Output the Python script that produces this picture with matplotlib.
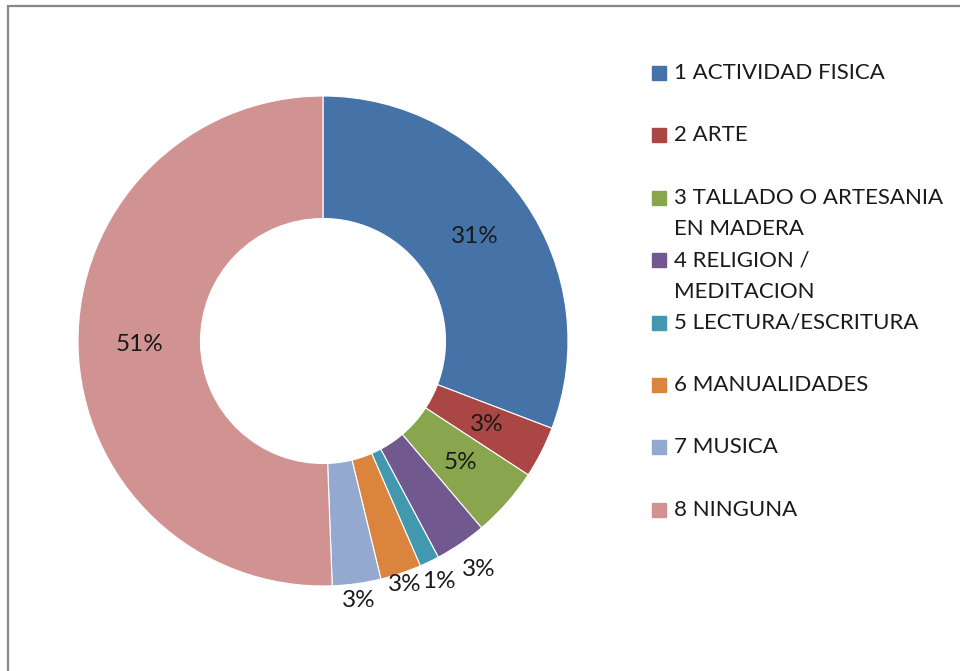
import numpy as np
import matplotlib.pyplot as plt
from matplotlib.patches import Rectangle

# data
categories = ["1 ACTIVIDAD FISICA", "2 ARTE", "3 TALLADO O ARTESANIA\nEN MADERA",
              "4 RELIGION /\nMEDITACION", "5 LECTURA/ESCRITURA", "6 MANUALIDADES",
              "7 MUSICA", "8 NINGUNA"]
values = [30.8, 3.4, 4.6, 3.4, 1.3, 2.7, 3.2, 50.6]
colors = ["#4572A7", "#AA4643", "#89A54E", "#71588F", "#4198AF", "#DB843D",
          "#93A9CF", "#D19392"]
# how far each percent label sits from the centre (outer radius = 1)
label_r = [0.75, 0.75, 0.75, 1.13, 1.09, 1.05, 1.07, 0.75]

plt.rcParams['font.family'] = ['Lato', 'DejaVu Sans']
W, H = 960, 671
fig = plt.figure(figsize=(W / 100, H / 100), dpi=100)

# frame around the chart area
fig.patches.append(Rectangle((8 / W, -0.1), 1.2, 1.1 - 6 / H, transform=fig.transFigure,
                             fill=False, edgecolor="#878787", linewidth=1.6))

cx, cy, R = 323, 341, 245
ax = fig.add_axes([(cx - R) / W, (H - cy - R) / H, 2 * R / W, 2 * R / H])
wedges, _ = ax.pie(values, colors=colors, startangle=90, counterclock=False,
                   radius=1, wedgeprops=dict(width=0.5, edgecolor="white", linewidth=0.8))
total = sum(values)
for w, v, r in zip(wedges, values, label_r):
    ang = np.deg2rad((w.theta1 + w.theta2) / 2)
    ax.text(r * np.cos(ang), r * np.sin(ang), f"{v / total * 100:.0f}%",
            ha="center", va="center", fontsize=17.5, color="#1a1a1a")
ax.set_xlim(-1, 1)
ax.set_ylim(-1, 1)
ax.axis("off")

# legend: evenly spaced slots, wrapped labels run down into the next gap
y0, slot, line_h = 73, 62.4, 31.5
for i, (lab, c) in enumerate(zip(categories, colors)):
    y = y0 + i * slot
    fig.patches.append(Rectangle((652 / W, (H - y - 7) / H), 14 / W, 14 / H,
                                 transform=fig.transFigure, color=c))
    for j, part in enumerate(lab.split("\n")):
        fig.text(674 / W, (H - y - j * line_h) / H, part, ha="left", va="center",
                 fontsize=16, color="#1a1a1a")

fig.savefig("out.png", dpi=100)
